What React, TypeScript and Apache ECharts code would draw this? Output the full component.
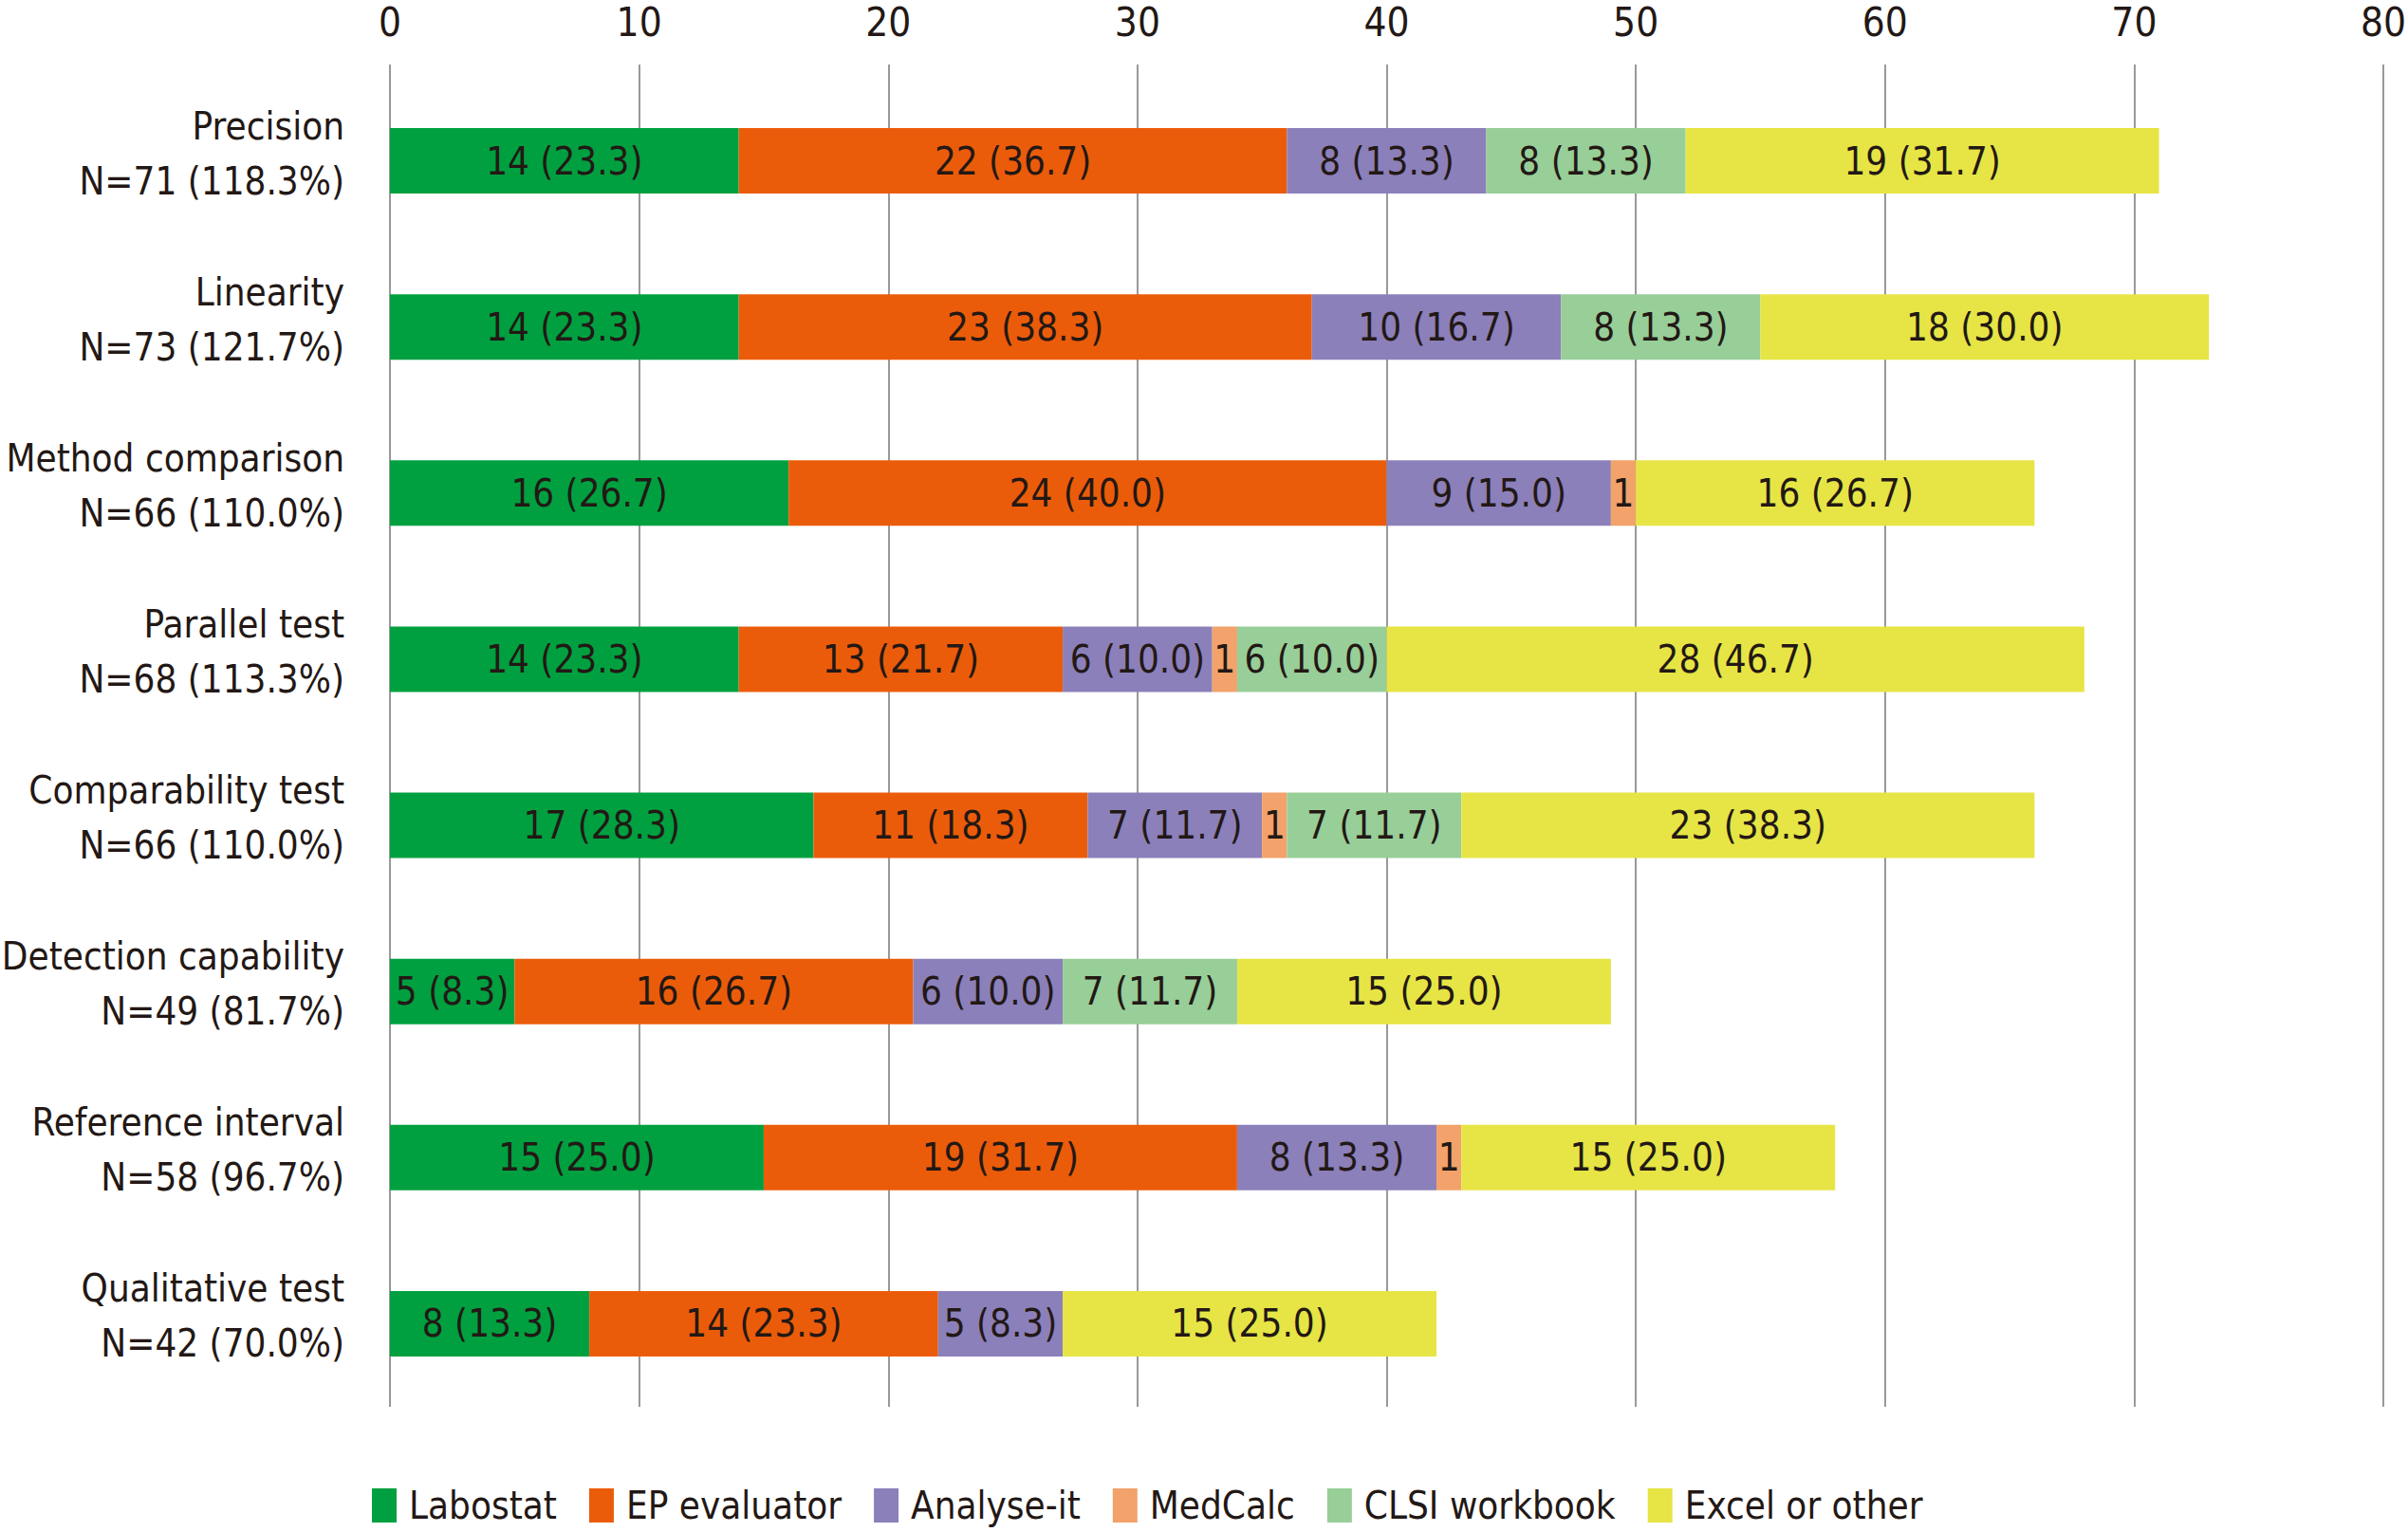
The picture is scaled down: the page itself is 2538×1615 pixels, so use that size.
import React, { useEffect, useRef } from "react";
import * as echarts from "echarts";

const categories = [
  "Precision",
  "Linearity",
  "Method comparison",
  "Parallel test",
  "Comparability test",
  "Detection capability",
  "Reference interval",
  "Qualitative test",
];
const nTotals = [71, 73, 66, 68, 66, 49, 58, 42];
const nPercents = ["118.3", "121.7", "110.0", "113.3", "110.0", "81.7", "96.7", "70.0"];

const seriesNames = ["Labostat", "EP evaluator", "Analyse-it", "MedCalc", "CLSI workbook", "Excel or other"];
const seriesColors = ["#00A040", "#EB5C0A", "#8B80BA", "#F2A26A", "#98CE98", "#E6E545"];

const labostat = [14, 14, 16, 14, 17, 5, 15, 8];
const labostatPct = ["23.3", "23.3", "26.7", "23.3", "28.3", "8.3", "25.0", "13.3"];
const epEvaluator = [22, 23, 24, 13, 11, 16, 19, 14];
const epEvaluatorPct = ["36.7", "38.3", "40.0", "21.7", "18.3", "26.7", "31.7", "23.3"];
const analyseIt = [8, 10, 9, 6, 7, 6, 8, 5];
const analyseItPct = ["13.3", "16.7", "15.0", "10.0", "11.7", "10.0", "13.3", "8.3"];
const medCalc = [null, null, 1, 1, 1, null, 1, null];
const medCalcPct = [null, null, null, null, null, null, null, null];
const clsiWorkbook = [8, 8, null, 6, 7, 7, null, null];
const clsiWorkbookPct = ["13.3", "13.3", null, "10.0", "11.7", "11.7", null, null];
const excelOther = [19, 18, 16, 28, 23, 15, 15, 15];
const excelOtherPct = ["31.7", "30.0", "26.7", "46.7", "38.3", "25.0", "25.0", "25.0"];

const xMin = 0;
const xMax = 80;
const xInterval = 10;

const FONT = "'DejaVu Sans Condensed', 'Liberation Sans Narrow', 'Roboto Condensed', sans-serif";
const TEXT = "#231815";

export default function App() {
  const ref = useRef<HTMLDivElement>(null);

  useEffect(() => {
    if (!ref.current) return;
    const chart = echarts.init(ref.current, null, { renderer: "svg" });

    const values = [labostat, epEvaluator, analyseIt, medCalc, clsiWorkbook, excelOther];
    const pcts = [labostatPct, epEvaluatorPct, analyseItPct, medCalcPct, clsiWorkbookPct, excelOtherPct];

    const series = seriesNames.map((name, s) => ({
      name,
      type: "bar",
      stack: "total",
      barWidth: 69,
      itemStyle: { color: seriesColors[s] },
      label: {
        show: true,
        position: "inside",
        color: TEXT,
        fontFamily: FONT,
        fontSize: 40,
        formatter: (p: any) => {
          const v = values[s][p.dataIndex];
          if (v == null) return "";
          const pc = pcts[s][p.dataIndex];
          return pc == null ? `${v}` : `${v} (${pc})`;
        },
      },
      data: values[s],
    }));

    const catLabels = categories.map((c, i) => `${c}\nN=${nTotals[i]} (${nPercents[i]}%)`);

    chart.setOption({
      animation: false,
      backgroundColor: "#ffffff",
      textStyle: { fontFamily: FONT },
      legend: {
        data: seriesNames.map((n) => ({ name: n, icon: "rect" })),
        left: 387,
        top: 1562,
        itemWidth: 26,
        itemHeight: 36,
        itemGap: 34,
        textStyle: { fontFamily: FONT, fontSize: 40, color: TEXT, padding: [0, 0, 0, 8] },
      },
      grid: { left: 411, right: 26, top: 82, bottom: 132, containLabel: false, outerBoundsMode: "none" },
      xAxis: {
        type: "value",
        position: "top",
        min: xMin,
        max: xMax,
        interval: xInterval,
        axisLine: { show: false },
        axisTick: { show: true, length: 14, lineStyle: { color: "#999999", width: 2 } },
        axisLabel: { color: TEXT, fontFamily: FONT, fontSize: 42, margin: 38 },
        splitLine: { show: true, lineStyle: { color: "#999999", width: 2 } },
      },
      yAxis: {
        type: "category",
        inverse: true,
        data: catLabels,
        axisLine: { show: false },
        axisTick: { show: false },
        axisLabel: {
          color: TEXT,
          fontFamily: FONT,
          fontSize: 40,
          margin: 48,
          align: "right",
          formatter: (val: string) => {
            const parts = val.split("\n");
            return `{a|${parts[0]}}\n{a|${parts[1]}}\n{s| }`;
          },
          rich: {
            a: { fontFamily: FONT, fontSize: 40, lineHeight: 58, color: TEXT, align: "right" },
            s: { fontSize: 8, lineHeight: 16 },
          },
        },
      },
      series,
    });

    return () => chart.dispose();
  }, []);

  return (
    <div
      ref={ref}
      style={{ position: "absolute", left: 0, top: 0, width: 2538, height: 1615 }}
    />
  );
}
